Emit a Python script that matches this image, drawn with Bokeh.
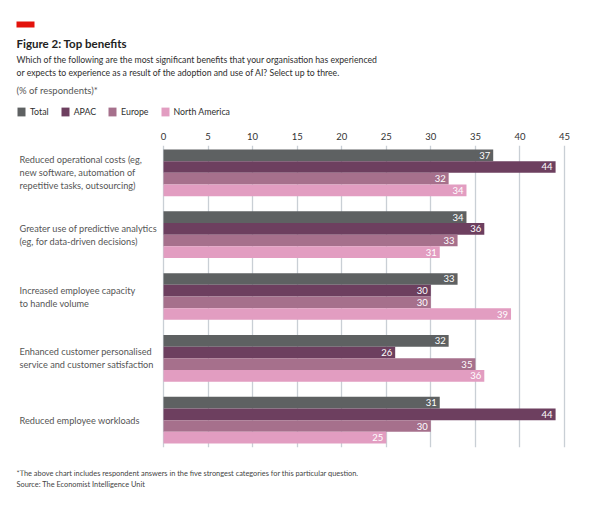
from bokeh.plotting import figure
from bokeh.layouts import column
from bokeh.models import (FactorRange, Range1d, Label, Legend, LegendItem,
                          BoxAnnotation, ColumnDataSource, FixedTicker)
from bokeh.core.properties import value
from bokeh.embed import file_html
from bokeh.resources import INLINE

# ---------------- data ----------------
category_labels = [
    "Reduced operational costs (eg,\nnew software, automation of\nrepetitive tasks, outsourcing)",
    "Greater use of predictive analytics\n(eg, for data-driven decisions)",
    "Increased employee capacity\nto handle volume",
    "Enhanced customer personalised\nservice and customer satisfaction",
    "Reduced employee workloads",
]
category_keys = ["Reduced operational costs", "Predictive analytics",
                 "Employee capacity", "Customer personalisation",
                 "Employee workloads"]
series = ["Total", "APAC", "Europe", "North America"]
total = [37, 34, 33, 32, 31]
apac = [44, 36, 30, 26, 44]
europe = [32, 33, 30, 35, 30]
north_america = [34, 31, 39, 36, 25]
x_ticks = [0, 5, 10, 15, 20, 25, 30, 35, 40, 45]

values = {"Total": total, "APAC": apac, "Europe": europe,
          "North America": north_america}
colors = {"Total": "#5e6162", "APAC": "#6d3f5f", "Europe": "#a6708c",
          "North America": "#e29dc1"}

FONT = "Lato"
W = 610

# ================= header =================
HH = 125
head = figure(width=W, height=HH, x_range=Range1d(0, 1), y_range=Range1d(0, 1),
              output_backend="svg", toolbar_location=None, min_border=0)
head.axis.visible = False
head.grid.visible = False
head.outline_line_color = None

head_texts = [
    ("Figure 2: Top benefits", 16, 43, "11.5px", "bold", "#222222"),
    ("Which of the following are the most significant benefits that your organisation has experienced",
     16, 58.5, "8.7px", "normal", "#2e2e2e"),
    ("or expects to experience as a result of the adoption and use of AI? Select up to three.",
     16, 71.5, "8.7px", "normal", "#2e2e2e"),
    ("(% of respondents)*", 16, 89.5, "9.5px", "normal", "#555555"),
]
for t, cx, cy, fs, fst, col in head_texts:
    head.add_layout(Label(x=cx, y=HH - cy, x_units="screen", y_units="screen",
                          text=t, text_baseline="middle", text_align="left",
                          text_font=FONT, text_font_size=fs,
                          text_font_style=fst, text_color=col))
head.add_layout(BoxAnnotation(left=16, right=34, top=HH - 21, bottom=HH - 27,
                              left_units="screen", right_units="screen",
                              top_units="screen", bottom_units="screen",
                              fill_color="#e3120b", fill_alpha=1,
                              line_color=None))

# legend key: one swatch renderer per series, kept outside the header frame
legend_items = []
for s in series:
    r = head.hbar(y=[-5], right=[1], left=0, height=1.0,
                  fill_color=colors[s], line_color=None)
    legend_items.append(LegendItem(label=s, renderers=[r]))
legend = Legend(items=legend_items, orientation="horizontal",
                location=(16, HH - 117), glyph_width=10, glyph_height=11,
                label_height=11, label_width=10, label_standoff=4, spacing=11,
                padding=0, margin=0, border_line_color=None,
                background_fill_alpha=0, label_text_font=FONT,
                label_text_font_size="8.8px", label_text_color="#2e2e2e",
                label_text_baseline="middle")
head.add_layout(legend)

# ================= main chart =================
TOPB, BOTB = 20, 23
MH = 517 - HH - 47
px_per_unit = (564 - 163) / 45.0
x_start = -163 / px_per_unit
x_end = 45 + (W - 564) / px_per_unit
label_x = -(163 - 19) / px_per_unit

factors = [(k, s) for k in reversed(category_keys) for s in reversed(series)]
y_range = FactorRange(factors=factors, group_padding=1.3, factor_padding=0.0,
                      range_padding=0.34, range_padding_units="absolute")

p = figure(width=W, height=MH, x_range=Range1d(x_start, x_end), y_range=y_range,
           x_axis_location="above", output_backend="svg", toolbar_location=None,
           min_border_left=0, min_border_right=0,
           min_border_top=TOPB, min_border_bottom=BOTB)
p.outline_line_color = None
p.background_fill_color = "white"
p.border_fill_color = "white"

p.yaxis.visible = False
p.ygrid.visible = False
p.xgrid.grid_line_color = "#c9cfd5"
p.xgrid.grid_line_width = 1.3
p.xaxis.ticker = FixedTicker(ticks=x_ticks)
p.xgrid.ticker = FixedTicker(ticks=x_ticks)
p.xaxis.axis_line_color = None
p.xaxis.major_tick_line_color = None
p.xaxis.minor_tick_line_color = None
p.xaxis.major_tick_in = 0
p.xaxis.major_tick_out = 0
p.xaxis.major_label_standoff = 6
p.xaxis.major_label_text_font = FONT
p.xaxis.major_label_text_font_size = "9.5px"
p.xaxis.major_label_text_color = "#333333"

for s in series:
    src = ColumnDataSource(dict(
        y=[(k, s) for k in category_keys],
        v=values[s],
        t=[str(v) for v in values[s]],
    ))
    p.hbar(y="y", right="v", left=0, height=1.0, source=src,
           fill_color=colors[s], line_color=None)
    p.text(x="v", y="y", text="t", source=src, x_offset=-3,
           text_align="right", text_baseline="middle", text_color="white",
           text_font=value(FONT), text_font_size="9.5px")

# category labels, left aligned, centred on each group
ly, lt, lo, lx = [], [], [], []
for key, lab in zip(category_keys, category_labels):
    lines = lab.split("\n")
    n = len(lines)
    for j, line in enumerate(lines):
        ly.append(key)
        lt.append(line)
        lo.append((j - (n - 1) / 2) * 13)
        lx.append(label_x)
cat_src = ColumnDataSource(dict(x=lx, y=ly, t=lt, o=lo))
p.text(x="x", y="y", text="t", y_offset="o", source=cat_src,
       text_baseline="middle", text_align="left", text_font=value(FONT),
       text_font_size="9.2px", text_color="#555555")

# ================= footer =================
FH = 517 - HH - MH
foot = figure(width=W, height=FH, x_range=Range1d(0, 1), y_range=Range1d(0, 1),
              output_backend="svg", toolbar_location=None, min_border=0)
foot.axis.visible = False
foot.grid.visible = False
foot.outline_line_color = None
foot_texts = [
    ("*The above chart includes respondent answers in the five strongest categories for this particular question.", 473),
    ("Source: The Economist Intelligence Unit", 484),
]
for t, cy in foot_texts:
    foot.add_layout(Label(x=16, y=FH - (cy - HH - MH), x_units="screen",
                          y_units="screen", text=t, text_baseline="middle",
                          text_align="left", text_font=FONT,
                          text_font_size="7.4px", text_color="#444444"))

layout = column(head, p, foot, spacing=0)
open("out.html", "w").write(file_html(layout, INLINE))
